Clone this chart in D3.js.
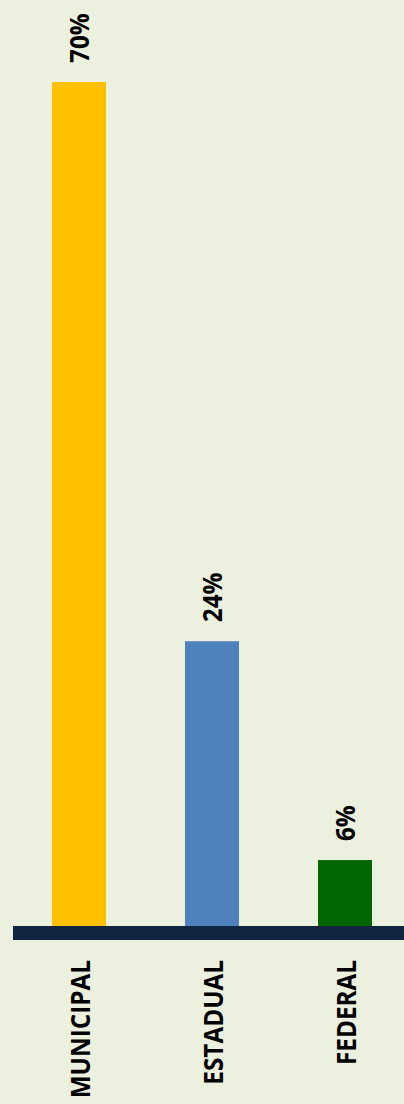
<!DOCTYPE html>
<html>
<head>
<meta charset="utf-8">
<script src="https://cdn.jsdelivr.net/npm/d3@7"></script>
<style>
  html, body { margin: 0; padding: 0; background: #EBF1DE; }
  svg { display: block; }
  text { font-family: "Open Sans", "Noto Sans", sans-serif; font-weight: 700; fill: #000; }
</style>
</head>
<body>
<svg id="chart" width="404" height="1104"></svg>
<script>
const categories = ["MUNICIPAL", "ESTADUAL", "FEDERAL"];
const values = [70, 24, 6];
const valueLabels = ["70%", "24%", "6%"];
const colors = ["#FFC000", "#4F81BD", "#006600"];

const W = 404, H = 1104;
const svg = d3.select("#chart");
svg.append("rect").attr("width", W).attr("height", H).attr("fill", "#EBF1DE");

const x = d3.scaleBand()
  .domain(categories)
  .range([12.5, 411.5])
  .paddingInner(0.594)
  .paddingOuter(0.297);

const y = d3.scaleLinear().domain([0, 70]).range([933, 82]);

const data = categories.map((c, i) => ({ c, v: values[i], label: valueLabels[i], color: colors[i] }));

svg.selectAll("rect.bar").data(data).enter().append("rect")
  .attr("class", "bar")
  .attr("x", d => x(d.c))
  .attr("width", x.bandwidth())
  .attr("y", d => y(d.v))
  .attr("height", d => y(0) - y(d.v))
  .attr("fill", d => d.color);

// baseline
svg.append("line")
  .attr("x1", 13).attr("x2", W)
  .attr("y1", y(0)).attr("y2", y(0))
  .attr("stroke", "#0F243E").attr("stroke-width", 14);

// value labels
svg.selectAll("text.val").data(data).enter().append("text")
  .attr("class", "val")
  .attr("transform", d => `translate(${x(d.c) + x.bandwidth() / 2},${y(d.v) - 19}) rotate(-90) scale(0.9,1)`)
  .attr("text-anchor", "start")
  .attr("dy", "0.357em")
  .attr("font-size", 27)
  .text(d => d.label);

// category labels
svg.selectAll("text.cat").data(data).enter().append("text")
  .attr("class", "cat")
  .attr("transform", d => `translate(${x(d.c) + x.bandwidth() / 2 + 1},960) rotate(-90) scale(0.9,1)`)
  .attr("text-anchor", "end")
  .attr("dy", "0.357em")
  .attr("font-size", 27)
  .text(d => d.c);
</script>
</body>
</html>
